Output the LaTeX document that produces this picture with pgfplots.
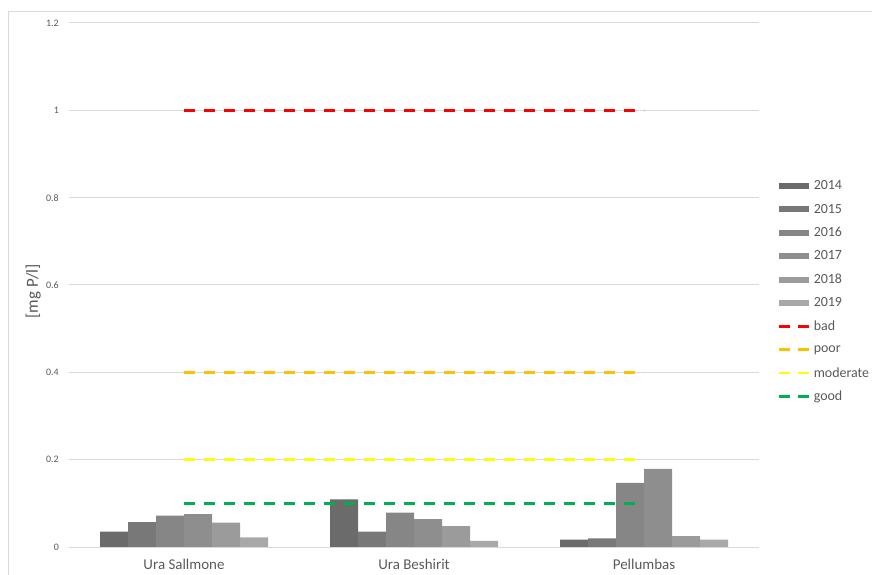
\documentclass[border=0pt]{standalone}
\usepackage{fontspec}
\setmainfont{Carlito}
\usepackage{pgfplots}
\pgfplotsset{compat=1.18}

\definecolor{txt}{HTML}{595959}
\definecolor{grd}{HTML}{D9D9D9}
\definecolor{g14}{HTML}{6B6B6B}
\definecolor{g15}{HTML}{787878}
\definecolor{g16}{HTML}{868686}
\definecolor{g17}{HTML}{8E8E8E}
\definecolor{g18}{HTML}{9B9B9B}
\definecolor{g19}{HTML}{A8A8A8}
\definecolor{cbad}{HTML}{FF0000}
\definecolor{cpoor}{HTML}{FFC000}
\definecolor{cmod}{HTML}{FFFF00}
\definecolor{cgood}{HTML}{00B050}

\pgfplotsset{
  yearbar/.style={ybar, bar width=28bp, draw=none, fill=#1,
    legend image code/.code={\fill[fill=#1] (0bp,-3bp) rectangle (30bp,3bp);}},
  limit/.style={sharp plot, no markers, draw=#1, line width=2.6bp,
    dash pattern=on 11bp off 9bp,
    legend image code/.code={\draw[draw=#1, line width=2.6bp, dash pattern=on 11bp off 8bp] (0bp,0bp) -- (30bp,0bp);}},
}

\begin{document}
\begin{tikzpicture}
\path[use as bounding box] (0,0) rectangle (872bp,575bp);
\draw[grd, line width=0.8bp] (8bp,0) -- (8bp,564bp) -- (872bp,564bp);
\begin{axis}[
    at={(69bp,28bp)}, anchor=south west,
    scale only axis,
    width=690bp, height=524bp,
    xmin=-0.5, xmax=2.5,
    ymin=0, ymax=1.2,
    xtick={0,1,2},
    xticklabels={Ura Sallmone, Ura Beshirit, Pellumbas},
    ytick={0,0.2,0.4,0.6,0.8,1,1.2},
    yticklabels={0,0.2,0.4,0.6,0.8,1,1.2},
    major tick length=0pt,
    axis line style={draw=none},
    ymajorgrids,
    major grid style={grd, line width=1bp},
    xticklabel style={font=\fontsize{15}{18}\selectfont, text=txt, inner sep=0pt, anchor=north, yshift=-12bp},
    yticklabel style={font=\fontsize{10}{12}\selectfont, text=txt, inner sep=0pt, anchor=east, xshift=-10bp},
    ylabel={[mg P/l]},
    ylabel style={font=\fontsize{17}{20}\selectfont, text=txt, at={(axis description cs:-0.052,0.488)}, anchor=center},
    legend style={draw=none, fill=none, at={(1.0275,0.7118)}, anchor=north west,
      inner sep=0pt, row sep=0pt,
      font=\fontsize{14}{16}\selectfont, text=txt,
      nodes={inner sep=0pt, minimum height=23.4bp},
      /tikz/every odd column/.append style={column sep=3bp}},
    legend cell align=left,
]
\addplot[yearbar=g14, bar shift=-70bp] coordinates {(0,0.035) (1,0.109) (2,0.017)};
\addlegendentry{2014}
\addplot[yearbar=g15, bar shift=-42bp] coordinates {(0,0.057) (1,0.035) (2,0.020)};
\addlegendentry{2015}
\addplot[yearbar=g16, bar shift=-14bp] coordinates {(0,0.072) (1,0.079) (2,0.147)};
\addlegendentry{2016}
\addplot[yearbar=g17, bar shift=14bp] coordinates {(0,0.075) (1,0.064) (2,0.179)};
\addlegendentry{2017}
\addplot[yearbar=g18, bar shift=42bp] coordinates {(0,0.056) (1,0.048) (2,0.025)};
\addlegendentry{2018}
\addplot[yearbar=g19, bar shift=70bp] coordinates {(0,0.022) (1,0.014) (2,0.017)};
\addlegendentry{2019}
\addplot[limit=cbad] coordinates {(0,1) (1,1) (2,1)};
\addlegendentry{bad}
\addplot[limit=cpoor] coordinates {(0,0.4) (1,0.4) (2,0.4)};
\addlegendentry{poor}
\addplot[limit=cmod] coordinates {(0,0.2) (1,0.2) (2,0.2)};
\addlegendentry{moderate}
\addplot[limit=cgood] coordinates {(0,0.1) (1,0.1) (2,0.1)};
\addlegendentry{good}
\end{axis}
\end{tikzpicture}
\end{document}
